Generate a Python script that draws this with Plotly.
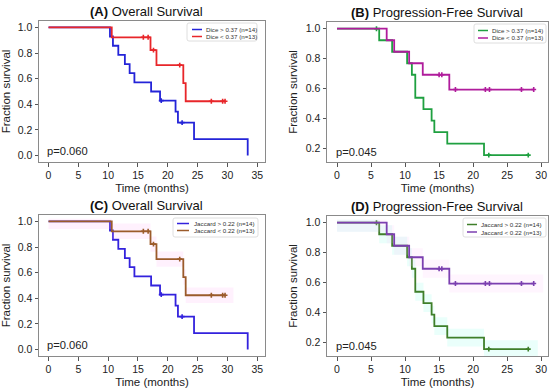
import plotly.graph_objects as go

W, H = 550, 388

# ---------------- data ----------------
# Overall survival, group above threshold (n=14)
os_hi_t = [10.3, 10.8, 11.7, 12.8, 13.6, 14.4, 17.2, 18.7, 21.3, 21.7, 24.4, 33.4]
os_hi_s = [0.929, 0.857, 0.786, 0.714, 0.643, 0.571, 0.500, 0.429, 0.343, 0.257, 0.129, 0.0]
os_hi_cens_t = [18.9, 22.4]
os_hi_cens_s = [0.429, 0.257]
# Overall survival, group below threshold (n=13)
os_lo_t = [10.6, 17.1, 18.1, 22.6, 23.0]
os_lo_s = [0.923, 0.823, 0.706, 0.565, 0.424]
os_lo_cens_t = [15.9, 16.7, 17.6, 22.0, 27.3, 29.2, 29.6]
os_lo_cens_s = [0.923, 0.923, 0.823, 0.706, 0.424, 0.424, 0.424]
# Progression-free survival, group above threshold (n=14)
pfs_hi_t = [6.2, 8.1, 10.3, 11.0, 11.5, 12.7, 13.9, 14.3, 16.2, 21.6]
pfs_hi_s = [0.923, 0.846, 0.769, 0.692, 0.538, 0.462, 0.385, 0.308, 0.231, 0.154]
pfs_hi_cens_t = [5.8, 22.3, 28.1]
pfs_hi_cens_s = [1.0, 0.154, 0.154]
# Progression-free survival, group below threshold (n=13)
pfs_lo_t = [7.3, 8.4, 10.6, 12.6, 16.5]
pfs_lo_s = [0.923, 0.846, 0.769, 0.692, 0.593]
pfs_lo_cens_t = [15.0, 15.4, 17.4, 21.8, 22.4, 27.1, 28.9]
pfs_lo_cens_s = [0.692, 0.692, 0.593, 0.593, 0.593, 0.593, 0.593]

panel_titles = ["<b>(A)</b> Overall Survival", "<b>(B)</b> Progression-Free Survival",
                "<b>(C)</b> Overall Survival", "<b>(D)</b> Progression-Free Survival"]
p_values = ["p=0.060", "p=0.045", "p=0.060", "p=0.045"]
labels_dice = ["Dice > 0.37 (n=14)", "Dice < 0.37 (n=13)"]
labels_jac = ["Jaccard > 0.22 (n=14)", "Jaccard < 0.22 (n=13)"]
os_xticks = [0, 5, 10, 15, 20, 25, 30, 35]
pfs_xticks = [0, 5, 10, 15, 20, 25, 30]
os_yticks = [0.0, 0.2, 0.4, 0.6, 0.8, 1.0]
pfs_yticks = [0.2, 0.4, 0.6, 0.8, 1.0]
# -----------------------------------------------------------------

FONT = "Liberation Sans, Arial, sans-serif"
fig = go.Figure()

def xp(v):
    return v / W

def yp(v):
    return 1 - v / H

os_hi = (os_hi_t, os_hi_s, os_hi_cens_t, os_hi_cens_s)
os_lo = (os_lo_t, os_lo_s, os_lo_cens_t, os_lo_cens_s)
pfs_hi = (pfs_hi_t, pfs_hi_s, pfs_hi_cens_t, pfs_hi_cens_s)
pfs_lo = (pfs_lo_t, pfs_lo_s, pfs_lo_cens_t, pfs_lo_cens_s)

panels = [
    dict(box=(39, 21, 265, 162), xr=[-1.6, 36.3], yr=[-0.05, 1.05], xt=os_xticks, yt=os_yticks,
         series=[(os_hi, "#2424d8", None, labels_dice[0]), (os_lo, "#e8262a", None, labels_dice[1])],
         title_c=(146, 11), leg=(187, 23, 257, 41), leg_rows=(29.5, 36.5), leg_line=(192, 202), leg_text=204,
         pv=(45, 151)),
    dict(box=(327, 22, 548, 162), xr=[-1.47, 31.0], yr=[0.108, 1.045], xt=pfs_xticks, yt=pfs_yticks,
         series=[(pfs_hi, "#1fa040", None, labels_dice[0]), (pfs_lo, "#b01c9c", None, labels_dice[1])],
         title_c=(437, 12), leg=(474, 24, 546, 43), leg_rows=(30.5, 38), leg_line=(478, 488), leg_text=490,
         pv=(334, 152)),
    dict(box=(39, 215, 265, 356), xr=[-1.6, 36.3], yr=[-0.05, 1.05], xt=os_xticks, yt=os_yticks,
         series=[(os_hi, "#3322dd", None, labels_jac[0]), (os_lo, "#9b5b2b", "rgba(255,170,240,0.16)", labels_jac[1])],
         title_c=(146, 205), leg=(173, 218, 258, 237), leg_rows=(223.5, 230.5), leg_line=(177, 189), leg_text=192,
         pv=(45, 345)),
    dict(box=(327, 216, 548, 356), xr=[-1.47, 31.0], yr=[0.108, 1.045], xt=pfs_xticks, yt=pfs_yticks,
         series=[(pfs_hi, "#3f7f2a", "rgba(160,255,235,0.22)", labels_jac[0]),
                 (pfs_lo, "#7b3fb0", "rgba(255,185,245,0.14)", labels_jac[1])],
         title_c=(437, 206), leg=(463, 218, 546, 237), leg_rows=(224.5, 232), leg_line=(467, 477), leg_text=479,
         pv=(334, 346)),
]

layout = dict(width=W, height=H, margin=dict(l=0, r=0, t=0, b=0),
              paper_bgcolor="white", plot_bgcolor="white",
              font=dict(family=FONT, color="#222222"), showlegend=False)
annotations = []
shapes = []

for i, p in enumerate(panels):
    n = "" if i == 0 else str(i + 1)
    xa, ya = "x" + n, "y" + n
    x0, y0, x1, y1 = p["box"]
    layout["xaxis" + n] = dict(domain=[xp(x0), xp(x1)], range=p["xr"], anchor=ya,
                               tickvals=p["xt"], ticks="outside", ticklen=3.5, tickwidth=1,
                               tickcolor="#555555", showline=True, mirror=True, linecolor="#8a8a8a",
                               linewidth=1, showgrid=False, zeroline=False,
                               tickfont=dict(size=10.5, color="#222222"),
                               title=dict(text="Time (months)", font=dict(size=11.5, color="#222222"), standoff=3))
    layout["yaxis" + n] = dict(domain=[yp(y1), yp(y0)], range=p["yr"], anchor=xa,
                               tickvals=p["yt"], tickformat=".1f", ticks="outside", ticklen=3.5, tickwidth=1,
                               tickcolor="#555555", showline=True, mirror=True, linecolor="#8a8a8a",
                               linewidth=1, showgrid=False, zeroline=False,
                               tickfont=dict(size=10.5, color="#222222"),
                               title=dict(text="Fraction survival", font=dict(size=11.5, color="#222222"), standoff=5))

    for (t, s, ct, cs), color, band, label in p["series"]:
        end = ct[-1] if ct and ct[-1] > t[-1] else t[-1]
        xs = [0] + list(t) + [end]
        ys = [1.0] + list(s) + [s[-1]]
        if band:
            bx = xs[:-1] + [end + 1.4]
            up = [min(v + 0.06, 1.02) for v in ys]
            lo = [v - 0.06 for v in ys]
            fig.add_trace(go.Scatter(x=bx, y=up, mode="lines", line=dict(width=0, shape="hv"),
                                     xaxis=xa, yaxis=ya, hoverinfo="skip", showlegend=False))
            fig.add_trace(go.Scatter(x=bx, y=lo, mode="lines", line=dict(width=0, shape="hv"),
                                     fill="tonexty", fillcolor=band,
                                     xaxis=xa, yaxis=ya, hoverinfo="skip", showlegend=False))
        fig.add_trace(go.Scatter(x=xs, y=ys, mode="lines", name=label,
                                 line=dict(color=color, width=1.8, shape="hv"),
                                 xaxis=xa, yaxis=ya, showlegend=False))
        fig.add_trace(go.Scatter(x=ct, y=cs, mode="markers", name=label + " censored",
                                 marker=dict(symbol="cross-thin", size=3.5, line=dict(color=color, width=1.6)),
                                 xaxis=xa, yaxis=ya, showlegend=False))

    # title
    tx, ty = p["title_c"]
    annotations.append(dict(text=panel_titles[i], x=xp(tx), y=yp(ty), xref="paper", yref="paper",
                            showarrow=False, xanchor="center", yanchor="middle",
                            font=dict(size=13, color="#111111", family=FONT)))
    # p-value
    px_, py_ = p["pv"]
    annotations.append(dict(text=p_values[i], x=xp(px_), y=yp(py_), xref="paper", yref="paper",
                            showarrow=False, xanchor="left", yanchor="middle",
                            font=dict(size=11.2, color="#222222", family=FONT)))
    # legend (drawn manually, matplotlib style)
    lx0, ly0, lx1, ly1 = p["leg"]
    r = 2.0
    path = (f"M {xp(lx0 + r)},{yp(ly0)} L {xp(lx1 - r)},{yp(ly0)} Q {xp(lx1)},{yp(ly0)} {xp(lx1)},{yp(ly0 + r)} "
            f"L {xp(lx1)},{yp(ly1 - r)} Q {xp(lx1)},{yp(ly1)} {xp(lx1 - r)},{yp(ly1)} "
            f"L {xp(lx0 + r)},{yp(ly1)} Q {xp(lx0)},{yp(ly1)} {xp(lx0)},{yp(ly1 - r)} "
            f"L {xp(lx0)},{yp(ly0 + r)} Q {xp(lx0)},{yp(ly0)} {xp(lx0 + r)},{yp(ly0)} Z")
    shapes.append(dict(type="path", path=path, xref="paper", yref="paper",
                       line=dict(color="#d6d6d6", width=0.8), fillcolor="rgba(255,255,255,0.85)"))
    for (srs, color, band, label), ry in zip(p["series"], p["leg_rows"]):
        a, b = p["leg_line"]
        shapes.append(dict(type="line", x0=xp(a), x1=xp(b), y0=yp(ry), y1=yp(ry), xref="paper", yref="paper",
                           line=dict(color=color, width=1.5)))
        annotations.append(dict(text=label, x=xp(p["leg_text"]), y=yp(ry), xref="paper", yref="paper",
                                showarrow=False, xanchor="left", yanchor="middle",
                                font=dict(size=6.2, color="#333333", family=FONT)))

layout["annotations"] = annotations
layout["shapes"] = shapes
fig.update_layout(**layout)
fig.write_html("out.html", config={"displayModeBar": False},
               post_script="document.body.style.margin='0';document.body.style.overflow='hidden';")
